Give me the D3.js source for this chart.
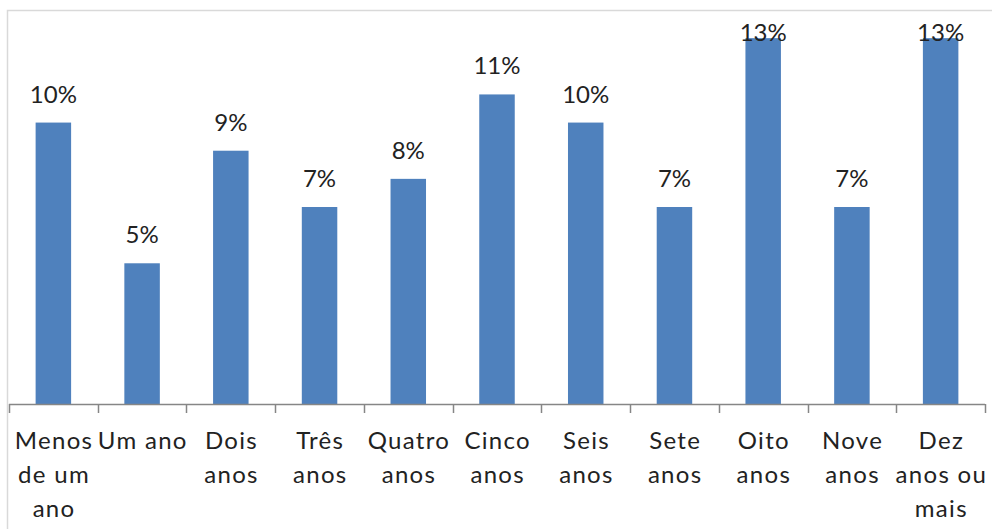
<!DOCTYPE html>
<html>
<head>
<meta charset="utf-8">
<script src="https://cdn.jsdelivr.net/npm/d3@7"></script>
<style>
  body { margin: 0; background: #fff; }
  svg { display: block; }
  text { font-family: Lato, "Open Sans", sans-serif; fill: #222; }
</style>
</head>
<body>
<svg id="grafico"></svg>
<script>
var width = 992,
    height = 529,
    margin = {top: 10, right: 7, bottom: 125, left: 9}

// dados
var categorias = ["Menos de um ano", "Um ano", "Dois anos", "Três anos", "Quatro anos",
                  "Cinco anos", "Seis anos", "Sete anos", "Oito anos", "Nove anos", "Dez anos ou mais"]
var rotulos = [["Menos", "de um", "ano"], ["Um ano"], ["Dois", "anos"], ["Três", "anos"],
               ["Quatro", "anos"], ["Cinco", "anos"], ["Seis", "anos"], ["Sete", "anos"],
               ["Oito", "anos"], ["Nove", "anos"], ["Dez", "anos ou", "mais"]]
var valores = [10, 5, 9, 7, 8, 11, 10, 7, 13, 7, 13]
var maxEixo = 14

var svg = d3.select("#grafico")
    .attr("width", width)
    .attr("height", height)

// borda da area do grafico (cortada na direita e embaixo)
svg.append("rect")
    .attr("x", 7.5)
    .attr("y", 10.5)
    .attr("width", width + 20)
    .attr("height", height + 20)
    .attr("fill", "none")
    .attr("stroke", "#d9d9d9")
    .attr("stroke-width", 1.5)

var x = d3.scaleBand()
    .domain(categorias)
    .range([margin.left, width - margin.right])
    .paddingInner(0.6)
    .paddingOuter(0.3)

var xEixo = d3.scaleLinear()
    .domain([0, categorias.length])
    .range([margin.left, width - margin.right])

var y = d3.scaleLinear()
    .domain([0, maxEixo])
    .range([height - margin.bottom, margin.top])

// barras
svg.selectAll("rect.barra")
    .data(valores)
  .enter()
    .append("rect")
    .attr("class", "barra")
    .attr("x", function(d, i) { return x(categorias[i]) })
    .attr("y", function(d) { return y(d) })
    .attr("width", x.bandwidth())
    .attr("height", function(d) { return y(0) - y(d) })
    .attr("fill", "#4f81bd")

// rotulos de valor (Excel empurra pra dentro quando nao cabe)
svg.selectAll("text.valor")
    .data(valores)
  .enter()
    .append("text")
    .attr("class", "valor")
    .attr("x", function(d, i) { return x(categorias[i]) + x.bandwidth() / 2 })
    .attr("y", function(d) { return Math.max(y(d) - 20, margin.top + 31) })
    .attr("text-anchor", "middle")
    .style("font-size", "24px")
    .text(function(d) { return d + "%" })

// eixo x
var eixo = svg.append("g")
    .attr("transform", "translate(0," + y(0) + ")")

eixo.append("line")
    .attr("x1", xEixo(0))
    .attr("x2", xEixo(categorias.length))
    .attr("y1", 0.5).attr("y2", 0.5)
    .attr("stroke", "#868686")
    .attr("stroke-width", 1.5)

eixo.selectAll("line.tick")
    .data(d3.range(categorias.length + 1))
  .enter()
    .append("line")
    .attr("class", "tick")
    .attr("x1", function(d) { return Math.round(xEixo(d)) + 0.5 })
    .attr("x2", function(d) { return Math.round(xEixo(d)) + 0.5 })
    .attr("y1", 0).attr("y2", 9)
    .attr("stroke", "#868686")
    .attr("stroke-width", 1.5)

var grupos = eixo.selectAll("text.cat")
    .data(rotulos)
  .enter()
    .append("text")
    .attr("class", "cat")
    .attr("text-anchor", "middle")
    .style("font-size", "24px")
    .style("letter-spacing", "1.3px")

grupos.selectAll("tspan")
    .data(function(d, i) { return d.map(function(l) { return {linha: l, i: i} }) })
  .enter()
    .append("tspan")
    .attr("x", function(d) { return x(categorias[d.i]) + x.bandwidth() / 2 + 0.7 })
    .attr("y", function(d, j) { return 45 + j * 34 })
    .text(function(d) { return d.linha })
</script>
</body>
</html>
